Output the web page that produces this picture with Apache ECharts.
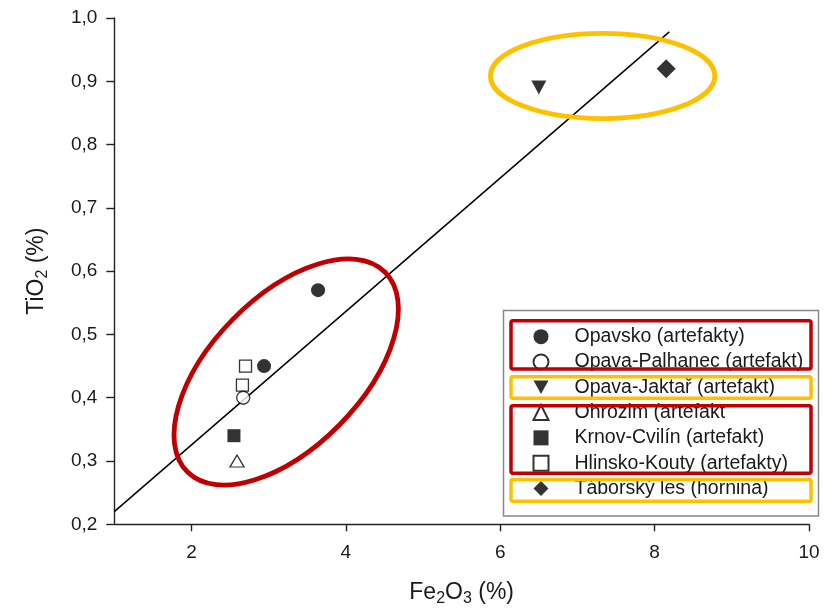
<!DOCTYPE html>
<html><head><meta charset="utf-8">
<script src="https://cdn.jsdelivr.net/npm/echarts@6/dist/echarts.min.js"></script>
<style>html,body{margin:0;padding:0;background:#fff}#c{width:830px;height:614px}</style>
</head><body><div id="c"></div>
<script>
// ---- data ----
const seriesNames = ['Opavsko (artefakty)', 'Opava-Palhanec (artefakt)', 'Opava-Jaktař (artefakt)',
  'Ohrozim (artefakt', 'Krnov-Cvilín (artefakt)', 'Hlinsko-Kouty (artefakty)', 'Táborský les (hornina)'];
const opavsko = [[3.64, 0.57], [2.94, 0.45]];
const palhanec = [[2.67, 0.40]];
const jaktar = [[6.50, 0.89]];
const ohrozim = [[2.59, 0.30]];
const krnov = [[2.55, 0.34]];
const hlinsko = [[2.70, 0.45], [2.66, 0.42]];
const taborsky = [[8.15, 0.92]];
const trendX = [1, 8.19];
const trendY = [0.22, 0.978];
const xTicks = [2, 4, 6, 8, 10];
const yTicks = [0.2, 0.3, 0.4, 0.5, 0.6, 0.7, 0.8, 0.9, 1.0];
// annotation ellipse centres (data coords)
const redCenter = [3.227, 0.4406];
const yellowCenter = [7.326, 0.9084];

const FONT = '"Liberation Sans", Arial, sans-serif';
const TXT = '#1a1a1a';
const chart = echarts.init(document.getElementById('c'), null, {renderer: 'canvas'});

const filled = {color: '#000', borderWidth: 0};
const empty = {color: '#fff', borderColor: '#000', borderWidth: 1.3};
const rich = {
  n: {fontSize: 23, lineHeight: 28, verticalAlign: 'middle', fontFamily: FONT, color: TXT},
  s: {fontSize: 16, lineHeight: 14, verticalAlign: 'bottom', fontFamily: FONT, color: TXT}
};
const axisCommon = {
  axisLine: {show: true, lineStyle: {color: '#222', width: 1.4}},
  splitLine: {show: false},
  nameLocation: 'middle',
  nameTextStyle: {rich: rich}
};

chart.setOption({
  backgroundColor: '#fff',
  animation: false,
  grid: {left: 114.3, right: 21, top: 18, bottom: 89.7},
  xAxis: Object.assign({}, axisCommon, {
    type: 'value', min: 1, max: 10,
    name: '{n|Fe}{s|2}{n|O}{s|3}{n| (%)}', nameGap: 54,
    axisTick: {show: true, length: 7, customValues: xTicks, lineStyle: {color: '#222', width: 1.4}},
    axisLabel: {customValues: xTicks, margin: 19, fontSize: 19, color: TXT, fontFamily: FONT}
  }),
  yAxis: Object.assign({}, axisCommon, {
    type: 'value', min: 0.2, max: 1.0,
    name: '{n|TiO}{s|2}{n| (%)}', nameGap: 64, nameRotate: 90,
    axisTick: {show: true, length: 8, customValues: yTicks, lineStyle: {color: '#222', width: 1.4}},
    axisLabel: {customValues: yTicks, margin: 17, fontSize: 19, color: TXT, fontFamily: FONT,
      formatter: v => v.toFixed(1).replace('.', ',')}
  }),
  legend: {
    orient: 'vertical', left: 532.5, top: 324, padding: 0, itemGap: 0,
    itemWidth: 15, itemHeight: 15, selectedMode: false,
    data: seriesNames,
    textStyle: {fontSize: 19.5, color: TXT, fontFamily: FONT, lineHeight: 25.3, padding: [0, 0, 0, 21]}
  },
  series: [
    {type: 'line', name: 'trend', data: trendX.map((x, i) => [x, trendY[i]]), showSymbol: false,
      symbol: 'none', lineStyle: {color: '#000', width: 1.5}, silent: true, z: 1},
    {type: 'scatter', name: seriesNames[0], data: opavsko, symbol: 'circle', symbolSize: 14, itemStyle: filled, z: 3},
    {type: 'scatter', name: seriesNames[1], data: palhanec, symbol: 'circle', symbolSize: 13, itemStyle: empty, z: 4},
    {type: 'scatter', name: seriesNames[2], data: jaktar, symbol: 'path://M0,0L20,0L10,18Z', symbolSize: [15, 14], itemStyle: filled, z: 3},
    {type: 'scatter', name: seriesNames[3], data: ohrozim, symbol: 'triangle', symbolSize: [14, 12], itemStyle: empty, z: 3},
    {type: 'scatter', name: seriesNames[4], data: krnov, symbol: 'rect', symbolSize: 13, itemStyle: filled, z: 3},
    {type: 'scatter', name: seriesNames[5], data: hlinsko, symbol: 'rect', symbolSize: 12, itemStyle: empty, z: 3},
    {type: 'scatter', name: seriesNames[6], data: taborsky, symbol: 'diamond', symbolSize: 19, itemStyle: filled, z: 3}
  ]
});

const rc = chart.convertToPixel({gridIndex: 0}, redCenter);
const yc = chart.convertToPixel({gridIndex: 0}, yellowCenter);
const RED = '#C00000', YEL = '#FFC000';
const box = (x, y, w, h, c) => ({type: 'rect', shape: {x: x, y: y, width: w, height: h, r: 2},
  style: {fill: 'none', stroke: c, lineWidth: 3.5}, z: 100});
chart.setOption({
  graphic: [
    {type: 'rect', shape: {x: 503.5, y: 310.5, width: 315, height: 205.5},
      style: {fill: '#fff', stroke: '#888', lineWidth: 1.5}, z: -1},
    box(511, 320.7, 300, 48.3, RED),
    box(511, 376.7, 300, 21.6, YEL),
    box(511, 405.7, 300, 67.6, RED),
    box(511, 479.4, 300, 21.9, YEL),
    {type: 'ellipse', x: rc[0], y: rc[1], rotation: 45.4 * Math.PI / 180,
      shape: {cx: 0, cy: 0, rx: 140.5, ry: 75}, style: {fill: 'none', stroke: RED, lineWidth: 4.8}, z: 100},
    {type: 'ellipse', x: yc[0], y: yc[1],
      shape: {cx: 0, cy: 0, rx: 112.2, ry: 42.6}, style: {fill: 'none', stroke: YEL, lineWidth: 4.8}, z: 100}
  ]
});
</script></body></html>
